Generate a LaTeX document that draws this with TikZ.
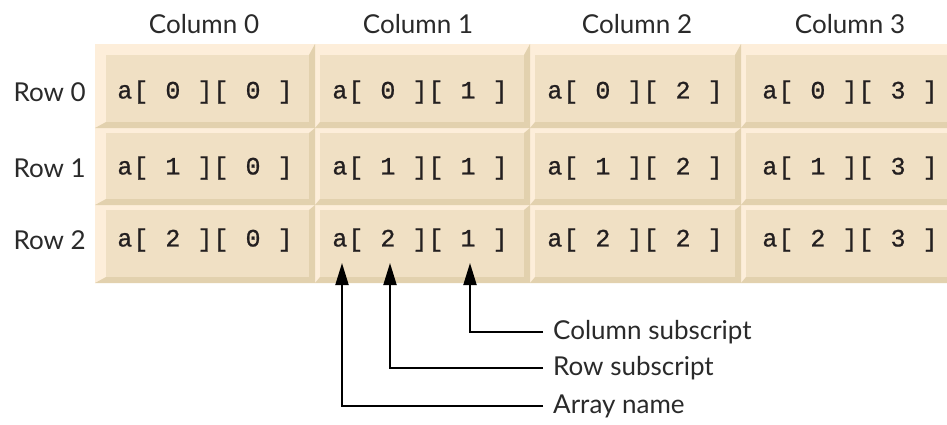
\documentclass[tikz,border=0pt]{standalone}
\usepackage{fontspec}
\setmainfont{Lato}
\newfontfamily\cellfont[LetterSpace=4,WordSpace=1.067,FakeBold=0.8]{Liberation Mono}
\usetikzlibrary{arrows.meta}
\definecolor{bglight}{HTML}{FDEEDA}
\definecolor{tileface}{HTML}{F0E0C4}
\definecolor{tiledark}{HTML}{E2D1AE}
\definecolor{ink}{HTML}{231F20}
\definecolor{lblink}{HTML}{2A2A2A}
\tikzset{
  celltext/.style={inner sep=0pt, text=ink, font=\cellfont\fontsize{25}{28}\selectfont},
  lbl/.style={inner sep=0pt, text=lblink, font=\fontsize{26}{30}\selectfont},
  conn/.style={line width=2pt, draw=black, -{Triangle[length=22pt,width=13pt]}}
}
\begin{document}
\begin{tikzpicture}[x=1pt,y=-1pt]
\useasboundingbox (0,0) rectangle (947,424);
\clip (0,0) rectangle (947,424);
\fill[white] (0,0) rectangle (947,424);
\fill[bglight] (95,44) rectangle (960,283);
\foreach \xa/\xb/\lx in {95/315/11, 315/530/5, 530/741/5, 741/960/5} {
  \foreach \ya/\yb/\ly in {44/128/11, 128/205/5, 205/283/5} {
    \fill[tiledark] (\xa,\yb) -- (\xb,\yb) -- (\xb,\ya) -- (\xb-6,\ya+\ly) -- (\xb-6,\yb-6) -- (\xa+\lx,\yb-6) -- cycle;
    \fill[tileface] (\xa+\lx,\ya+\ly) rectangle (\xb-6,\yb-6);
  }
}
% column headers
\node[lbl] (h0) at (204,24) {Column 0};
\node[lbl] (h1) at (418,24) {Column 1};
\node[lbl] (h2) at (637,24) {Column 2};
\node[lbl] (h3) at (850,24) {Column 3};
% row headers
\node[lbl, anchor=east] (r0) at (86,92) {Row 0};
\node[lbl, anchor=east] (r1) at (86,168) {Row 1};
\node[lbl, anchor=east] (r2) at (86,240) {Row 2};
% cells
\foreach \r/\y in {0/92, 1/168, 2/240} {
  \foreach \c/\x in {0/205, 1/420, 2/635, 3/850} {
    \node[celltext] (a\r\c) at (\x,\y) {a[ \r\ ][ \c\ ]};
  }
}
% arrow targets
\coordinate (tA) at (342,263);
\coordinate (tR) at (390,263);
\coordinate (tC) at (470,263);
% labels
\node[lbl, anchor=west, inner xsep=10pt] (lC) at (543,332) {Column subscript};
\node[lbl, anchor=west, inner xsep=10pt] (lR) at (543,368) {Row subscript};
\node[lbl, anchor=west, inner xsep=10pt] (lA) at (543,406) {Array name};
\draw[conn] (lC.west) -| (tC);
\draw[conn] (lR.west) -| (tR);
\draw[conn] (lA.west) -| (tA);
\end{tikzpicture}
\end{document}
